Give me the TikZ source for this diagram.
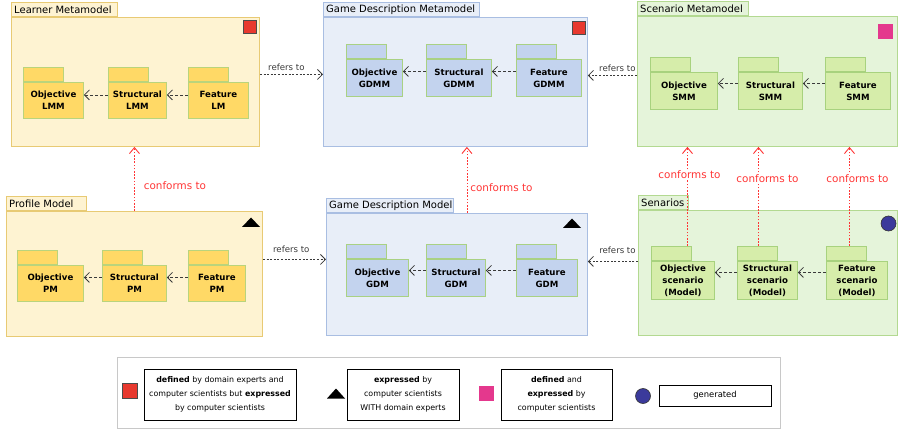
\documentclass[tikz,border=0pt]{standalone}
\usepackage{fontspec}
\setmainfont{DejaVu Sans}
\usetikzlibrary{arrows.meta,shapes.geometric}
\definecolor{bgY}{HTML}{FEF3D2}
\definecolor{bdY}{HTML}{E8CA74}
\definecolor{pkY}{HTML}{FFD966}
\definecolor{pkYbd}{HTML}{B9D47C}
\definecolor{bgB}{HTML}{E8EEF8}
\definecolor{bdB}{HTML}{A9BEE2}
\definecolor{pkB}{HTML}{C3D3EE}
\definecolor{pkBbd}{HTML}{A9D183}
\definecolor{bgG}{HTML}{E5F4DA}
\definecolor{bdG}{HTML}{B3D991}
\definecolor{pkG}{HTML}{D6EDAA}
\definecolor{pkGbd}{HTML}{A8D27E}
\definecolor{mred}{HTML}{E8392F}
\definecolor{mpink}{HTML}{E4388D}
\definecolor{mblue}{HTML}{3B3A9B}
\definecolor{confred}{HTML}{FF3535}
\definecolor{depgray}{HTML}{3A3A3A}
\definecolor{legbd}{HTML}{C8C8C8}
\newcommand\contfont{\fontsize{10}{12}\selectfont}
\newcommand\pkgfont{\fontsize{8.6}{12}\selectfont\bfseries}
\newcommand\reffont{\fontsize{8.6}{10}\selectfont}
\newcommand\conffont{\fontsize{10.4}{12}\selectfont}
\newcommand\legfont{\fontsize{7.9}{14}\selectfont}
\newcommand\cont[8]{%
  \node[#7, anchor=south west, minimum width={(#6-#2)*1pt}, minimum height=14pt, inner sep=0pt] (#1t) at (#2,#3) {};
  \node[anchor=west, inner sep=0pt, font=\contfont] (#1l) at ([xshift=3pt]#1t.west) {#8};
  \node[#7, anchor=north west, minimum width={(#4-#2)*1pt}, minimum height={(#5-#3)*1pt}, inner sep=0pt] (#1) at (#2,#3) {};
}
\newcommand\pkg[7]{%
  \node[#6, anchor=south west, minimum width=40pt, minimum height=14pt, inner sep=0pt] (#1t) at (#2,#3) {};
  \node[#6, anchor=north west, minimum width={(#4-#2)*1pt}, minimum height={(#5-#3)*1pt}, inner sep=0pt, align=center, font=\pkgfont] (#1) at (#2,#3) {#7};
}
\begin{document}
\begin{tikzpicture}[x=1pt,y=-1pt,
  ybox/.style={draw=bdY, fill=bgY, line width=0.9pt},
  bbox/.style={draw=bdB, fill=bgB, line width=0.9pt},
  gbox/.style={draw=bdG, fill=bgG, line width=0.9pt},
  ypkg/.style={draw=pkYbd, fill=pkY, line width=0.9pt},
  bpkg/.style={draw=pkBbd, fill=pkB, line width=0.9pt},
  gpkg/.style={draw=pkGbd, fill=pkG, line width=0.9pt},
  dep/.style={draw=depgray, line width=0.8pt, dash pattern=on 3pt off 2pt, -{Straight Barb[length=5pt,width=10pt]}},
  refl/.style={draw=depgray, line width=0.8pt, dash pattern=on 2pt off 1.6pt, -{Straight Barb[length=5pt,width=10pt]}},
  conf/.style={draw=confred, line width=0.9pt, dash pattern=on 1.6pt off 1.6pt, -{Straight Barb[length=6pt,width=10pt]}},
  conflab/.style={text=confred, font=\conffont, inner sep=1pt},
  reflab/.style={text=depgray, font=\reffont, inner sep=1pt},
  legtxt/.style={draw=black, line width=0.8pt, align=center, font=\legfont, inner sep=0pt},
  sqmark/.style={draw=black!70, line width=0.6pt, minimum size=13pt, inner sep=0pt},
]
\useasboundingbox (0,0) rectangle (899,430);
% containers
\cont{lmm}{11}{17}{259}{146}{117}{ybox}{Learner Metamodel}
\cont{gdmm}{323}{17}{587}{146}{479}{bbox}{Game Description Metamodel}
\cont{smm}{637}{16}{897}{146}{748}{gbox}{Scenario Metamodel}
\cont{pm}{6}{211}{262}{336}{86}{ybox}{Profile Model}
\cont{gdm}{326}{213}{587}{335}{453}{bbox}{Game Description Model}
\cont{scn}{638}{210}{897}{335}{688}{gbox}{Senarios}
% markers
\node[sqmark, fill=mred] (mk1) at (249.5,27) {};
\node[sqmark, fill=mred] (mk2) at (578.5,28) {};
\node[sqmark, draw=mpink, fill=mpink, minimum size=14pt] (mk3) at (885.5,31.5) {};
\fill[black] (242,227) -- (260,227) -- (251,217.5) -- cycle;
\fill[black] (563,228) -- (581,228) -- (572,218.5) -- cycle;
\node[circle, draw=black!80, fill=mblue, line width=0.6pt, minimum size=15pt, inner sep=0pt] (mk6) at (888.5,223.5) {};
% packages
\pkg{olmm}{23}{82}{83}{118}{ypkg}{Objective\\LMM}
\pkg{slmm}{108}{82}{166}{118}{ypkg}{Structural\\LMM}
\pkg{flm}{188}{82}{248}{118}{ypkg}{Feature\\LM}
\pkg{ogdmm}{346}{59}{402}{96}{bpkg}{Objective\\GDMM}
\pkg{sgdmm}{426}{59}{491}{96}{bpkg}{Structural\\GDMM}
\pkg{fgdmm}{516}{59}{581}{96}{bpkg}{Feature\\GDMM}
\pkg{osmm}{650}{72}{717}{109}{gpkg}{Objective\\SMM}
\pkg{ssmm}{738}{72}{802}{109}{gpkg}{Structural\\SMM}
\pkg{fsmm}{825}{72}{890}{109}{gpkg}{Feature\\SMM}
\pkg{opm}{17}{265}{83}{301}{ypkg}{Objective\\PM}
\pkg{spm}{102}{265}{166}{301}{ypkg}{Structural\\PM}
\pkg{fpm}{188}{265}{245}{301}{ypkg}{Feature\\PM}
\pkg{ogdm}{346}{259}{408}{296}{bpkg}{Objective\\GDM}
\pkg{sgdm}{426}{259}{485}{296}{bpkg}{Structural\\GDM}
\pkg{fgdm}{516}{259}{577}{296}{bpkg}{Feature\\GDM}
\pkg{osc}{651}{261}{714}{299}{gpkg}{Objective\\scenario\\(Model)}
\pkg{ssc}{737}{261}{797}{299}{gpkg}{Structural\\scenario\\(Model)}
\pkg{fsc}{826}{261}{887}{299}{gpkg}{Feature\\scenario\\(Model)}
% dependencies
\draw[dep] ([yshift=5.5pt]slmm.west) -- ([yshift=5.5pt]olmm.east);
\draw[dep] ([yshift=5.5pt]flm.west) -- ([yshift=5.5pt]slmm.east);
\draw[dep] ([yshift=6.5pt]sgdmm.west) -- ([yshift=6.5pt]ogdmm.east);
\draw[dep] ([yshift=6.5pt]fgdmm.west) -- ([yshift=6.5pt]sgdmm.east);
\draw[dep] ([yshift=7.5pt]ssmm.west) -- ([yshift=7.5pt]osmm.east);
\draw[dep] ([yshift=7.5pt]fsmm.west) -- ([yshift=7.5pt]ssmm.east);
\draw[dep] ([yshift=6pt]spm.west) -- ([yshift=6pt]opm.east);
\draw[dep] ([yshift=6pt]fpm.west) -- ([yshift=6pt]spm.east);
\draw[dep] ([yshift=7.5pt]sgdm.west) -- ([yshift=7.5pt]ogdm.east);
\draw[dep] ([yshift=7.5pt]fgdm.west) -- ([yshift=7.5pt]sgdm.east);
\draw[dep] ([yshift=8pt]ssc.west) -- ([yshift=8pt]osc.east);
\draw[dep] ([yshift=8pt]fsc.west) -- ([yshift=8pt]ssc.east);
% refers to
\draw[refl] ([yshift=7.5pt]lmm.east) -- ([yshift=7.5pt]lmm.east -| gdmm.west)
  node[reflab, pos=0.42, above=2pt] {refers to};
\draw[refl] ([yshift=6pt]smm.west) -- ([yshift=6pt]smm.west -| gdmm.east)
  node[reflab, pos=0.4, above=2pt] {refers to};
\draw[refl] ([yshift=14.5pt]pm.east) -- ([yshift=14.5pt]pm.east -| gdm.west)
  node[reflab, pos=0.45, above=5pt] {refers to};
\draw[refl] ([yshift=11.5pt]scn.west) -- ([yshift=11.5pt]scn.west -| gdm.east)
  node[reflab, pos=0.41, above=6pt] {refers to};
% conforms to
\draw[conf] (pm.north) -- (pm.north |- lmm.south)
  node[conflab, pos=0.4, right=8pt] {conforms to};
\draw[conf] ([xshift=10pt]gdm.north) -- ([xshift=10pt]gdm.north |- gdmm.south)
  node[conflab, pos=0.39, right=2pt] {conforms to};
\draw[conf] ([xshift=16pt]osct.north) -- ([xshift=16pt]osct.north |- smm.south)
  node[conflab, pos=0.72, fill=white, xshift=2pt] {conforms to};
\draw[conf] ([xshift=1pt]ssct.north) -- ([xshift=1pt]ssct.north |- smm.south)
  node[conflab, pos=0.68, fill=white, xshift=9pt] {conforms to};
\draw[conf] ([xshift=3pt]fsct.north) -- ([xshift=3pt]fsct.north |- smm.south)
  node[conflab, pos=0.68, fill=white, xshift=8pt] {conforms to};
% legend
\node[draw=legbd, line width=0.8pt, anchor=north west, minimum width=663pt, minimum height=71pt, inner sep=0pt] (leg) at (117,357) {};
\node[sqmark, fill=mred, minimum size=15pt] (lg1) at (129.5,391) {};
\node[legtxt, minimum width=152pt, minimum height=51pt] (lt1) at (220,394.5)
  {\textbf{defined} by domain experts and\\computer scientists but \textbf{expressed}\\by computer scientists};
\fill[black] (327,398.5) -- (345,398.5) -- (336,388.5) -- cycle;
\node[legtxt, minimum width=112pt, minimum height=51pt] (lt2) at (403,394.5)
  {\textbf{expressed} by\\computer scientists\\WITH domain experts};
\node[sqmark, draw=mpink, fill=mpink, minimum size=14pt] (lg3) at (486.5,393.5) {};
\node[legtxt, minimum width=111pt, minimum height=51pt] (lt3) at (556.5,394.5)
  {\textbf{defined} and\\\textbf{expressed} by\\computer scientists};
\node[circle, draw=black!80, fill=mblue, line width=0.6pt, minimum size=15pt, inner sep=0pt] (lg4) at (643,396) {};
\node[legtxt, minimum width=112pt, minimum height=21pt, font=\fontsize{8.4}{10}\selectfont] (lt4) at (715,395.5) {generated};
\end{tikzpicture}
\end{document}
